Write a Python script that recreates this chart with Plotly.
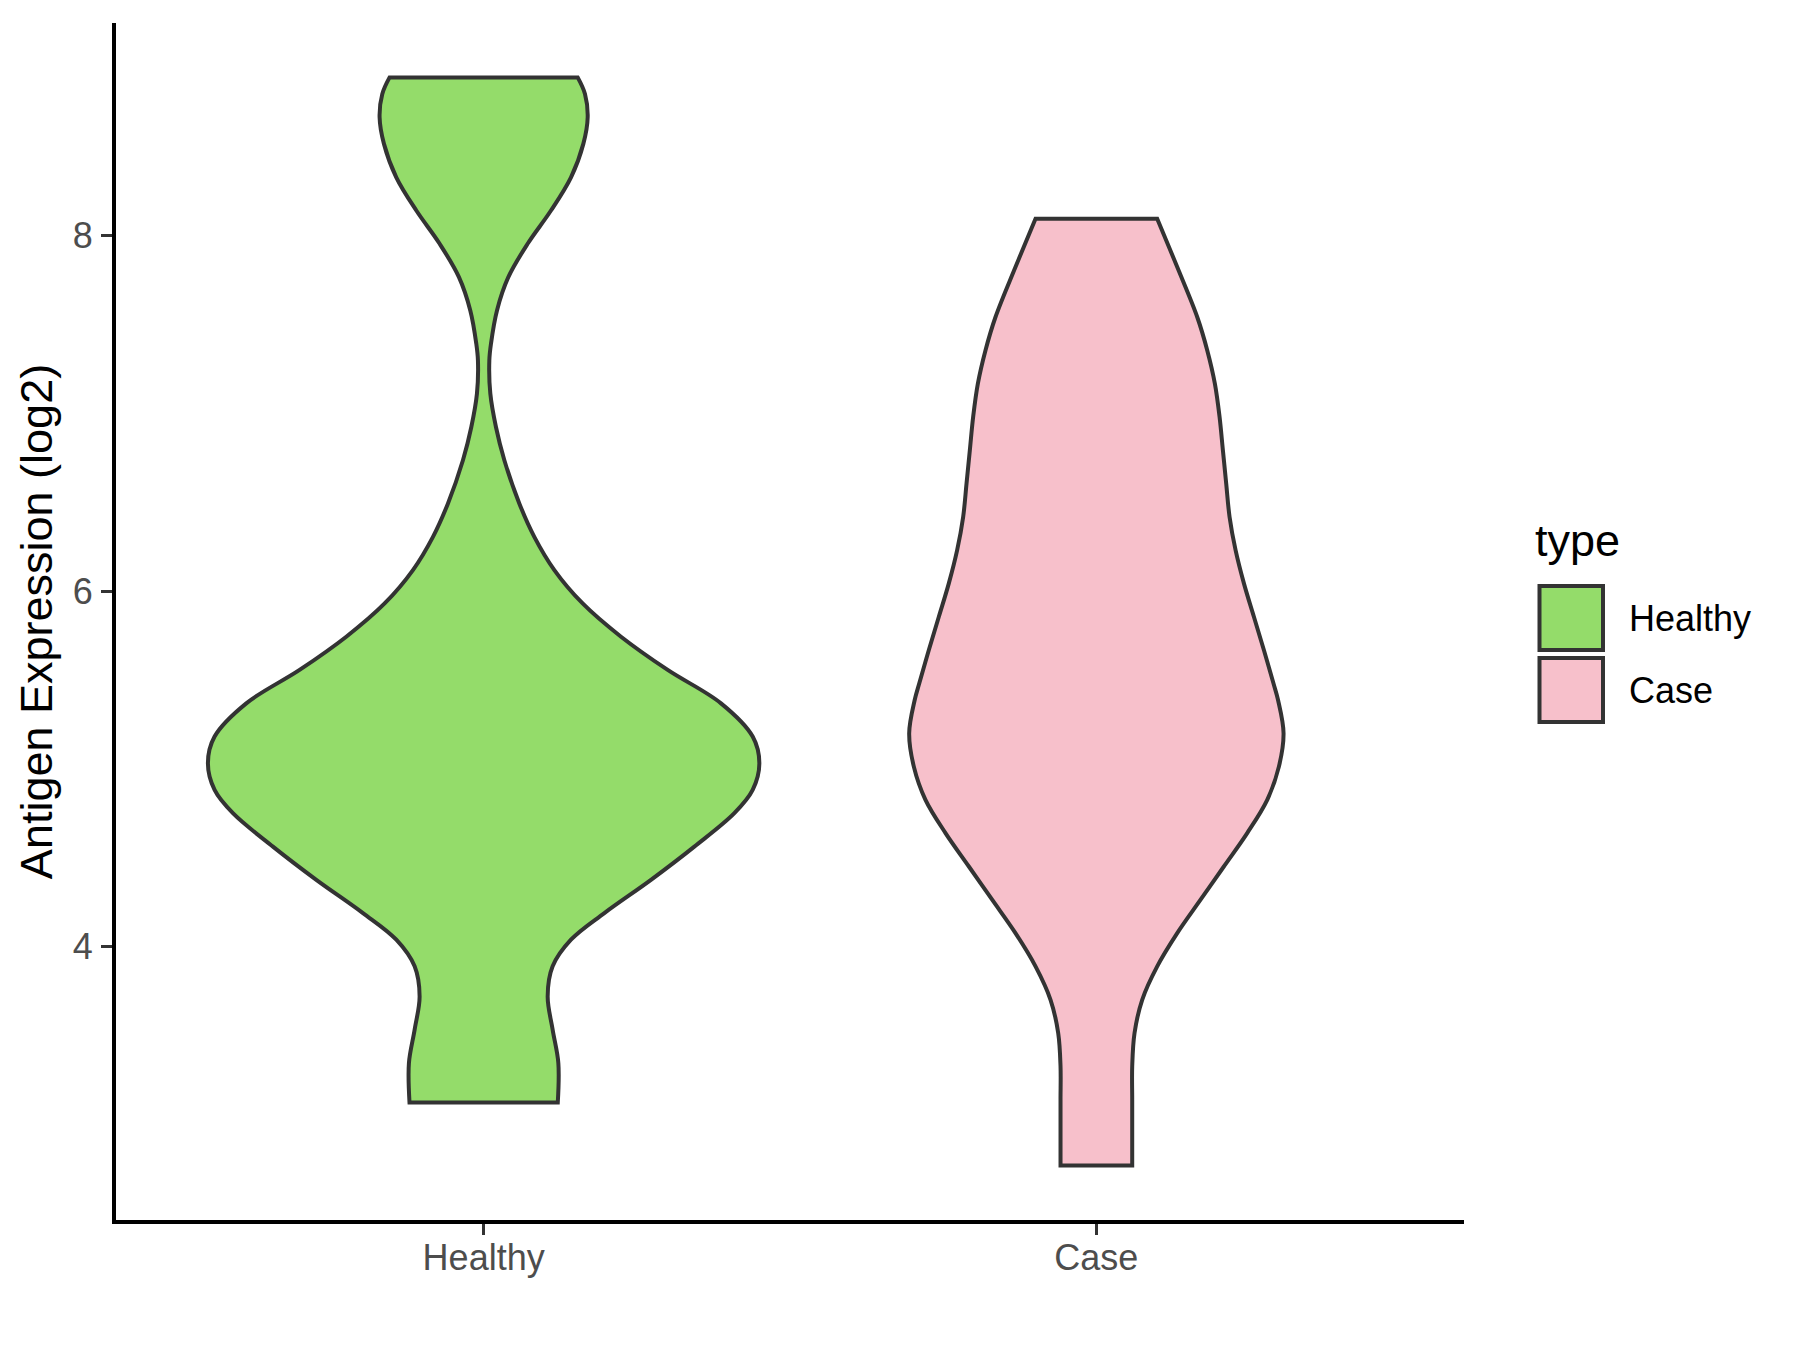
import plotly.graph_objects as go

# ---------------- data ----------------
categories = ["Healthy", "Case"]
fill_colors = ["#94DC6A", "#F7C0CB"]

# violin profiles: expression value (log2) and scaled density half-width (category units)
healthy_y = [8.891, 8.798, 8.667, 8.517, 8.329, 8.142, 7.955, 7.767, 7.580, 7.393,
             7.299, 7.112, 6.924, 6.737, 6.494, 6.306, 6.119, 5.931, 5.744, 5.557,
             5.369, 5.182, 5.032, 4.882, 4.751, 4.563, 4.376, 4.189, 4.039, 3.889,
             3.720, 3.533, 3.346, 3.123]
healthy_width = [0.1535, 0.1654, 0.1698, 0.1627, 0.1426, 0.1099, 0.0718, 0.0403, 0.0218, 0.0120,
                 0.0093, 0.0109, 0.0201, 0.0338, 0.0582, 0.0827, 0.1154, 0.1616, 0.2242, 0.3004,
                 0.3874, 0.4391, 0.4500, 0.4391, 0.4092, 0.3439, 0.2731, 0.1970, 0.1425, 0.1126,
                 0.1045, 0.1126, 0.1219, 0.1210]

case_y = [8.096, 7.824, 7.543, 7.355, 7.168, 6.980, 6.793, 6.606, 6.418, 6.231,
          6.044, 5.856, 5.669, 5.482, 5.388, 5.201, 5.013, 4.826, 4.639, 4.451,
          4.264, 4.076, 3.889, 3.701, 3.514, 3.327, 3.139, 2.952, 2.768]
case_width = [0.0993, 0.1320, 0.1646, 0.1810, 0.1934, 0.2011, 0.2065, 0.2119, 0.2174, 0.2272,
              0.2408, 0.2571, 0.2734, 0.2890, 0.2965, 0.3055, 0.2979, 0.2789, 0.2462, 0.2081,
              0.1701, 0.1320, 0.0993, 0.0748, 0.0623, 0.0585, 0.0585, 0.0585, 0.0585]

y_tick_values = [4, 6, 8]
y_title = "Antigen Expression (log2)"
legend_title = "type"

profiles = [(healthy_y, healthy_width), (case_y, case_width)]

# ---------------- figure ----------------
W, H = 1800, 1350
OFF = 8  # page body margin of the browser
ML, MR, MT, MB = 116 - OFF, 336 + OFF, 23 - OFF, 130 + OFF
FONT = "Liberation Sans, Arial, sans-serif"
OUTLINE = "#333333"
LW = 4

fig = go.Figure()
for i, (name, (ys, ws)) in enumerate(zip(categories, profiles)):
    c = i + 1
    right_x = [c + w for w in ws]
    left_x = [c - w for w in ws]
    # closed outline: right edge downwards, left edge upwards;
    # corner points repeated so the spline keeps sharp corners at the flat ends
    xs = ([right_x[0]] + right_x + [right_x[-1], left_x[-1]] + left_x[::-1]
          + [left_x[0], right_x[0]])
    yy = ([ys[0]] + list(ys) + [ys[-1], ys[-1]] + list(ys[::-1])
          + [ys[0], ys[0]])
    fig.add_trace(go.Scatter(
        x=xs, y=yy, mode="lines", fill="toself", fillcolor=fill_colors[i],
        line=dict(color=OUTLINE, width=LW, shape="spline", smoothing=1, simplify=False),
        name=name, showlegend=False, hoverinfo="skip"))

all_y = healthy_y + case_y
lo, hi = min(all_y), max(all_y)
pad = 0.05 * (hi - lo)

fig.update_layout(
    width=W, height=H,
    margin=dict(l=ML, r=MR, t=MT, b=MB),
    paper_bgcolor="white", plot_bgcolor="white",
    font=dict(family=FONT, color="black"),
    showlegend=False,
)
fig.update_xaxes(
    range=[0.4, len(categories) + 0.6],
    tickmode="array", tickvals=list(range(1, len(categories) + 1)), ticktext=categories,
    showgrid=False, zeroline=False,
    showline=True, linecolor="black", linewidth=LW,
    ticks="outside", ticklen=11, tickwidth=3, tickcolor=OUTLINE,
    tickfont=dict(family=FONT, size=36, color="#4D4D4D"),
    ticklabelstandoff=-8,
)
fig.update_yaxes(
    range=[lo - pad, hi + pad],
    tickmode="array", tickvals=y_tick_values, ticktext=[str(v) for v in y_tick_values],
    showgrid=False, zeroline=False,
    showline=True, linecolor="black", linewidth=LW,
    ticks="outside", ticklen=11, tickwidth=3, tickcolor=OUTLINE,
    tickfont=dict(family=FONT, size=36, color="#4D4D4D"),
    ticklabelstandoff=1,
    title=dict(text=y_title, font=dict(family=FONT, size=45, color="black"), standoff=7),
)

# ---------------- manual legend (ggplot style) ----------------
PW, PH = W - ML - MR, H - MT - MB
def px(x):  # screen x -> paper
    return (x - OFF - ML) / PW
def py(y):  # screen y -> paper
    return (H - MB - (y - OFF)) / PH

key_x0, key_x1 = 1539.5, 1603
key_tops = [586, 658]
key_h = 64
for i, name in enumerate(categories):
    t = key_tops[i]
    fig.add_shape(type="rect", xref="paper", yref="paper",
                  x0=px(key_x0), x1=px(key_x1), y0=py(t + key_h), y1=py(t),
                  fillcolor=fill_colors[i], line=dict(color=OUTLINE, width=LW))
    fig.add_annotation(xref="paper", yref="paper", x=px(1627), y=py(t + key_h / 2),
                       text=name, showarrow=False, xanchor="left", yanchor="middle",
                       font=dict(family=FONT, size=36, color="black"))
fig.add_annotation(xref="paper", yref="paper", x=px(1533), y=py(540),
                   text=legend_title, showarrow=False, xanchor="left", yanchor="middle",
                   font=dict(family=FONT, size=45, color="black"))

fig.write_html("out.html")
